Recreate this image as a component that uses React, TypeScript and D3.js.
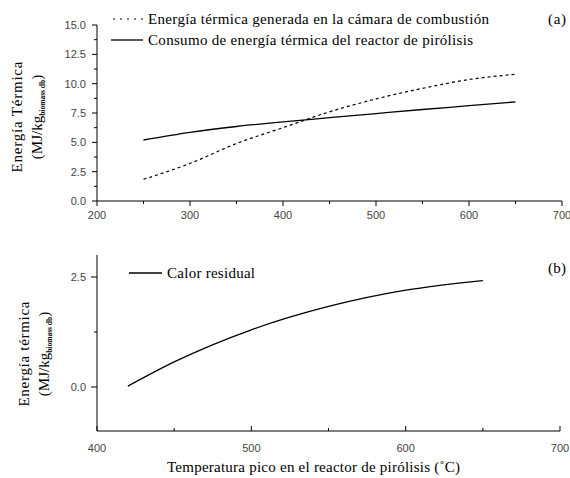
import React, { useEffect, useRef } from 'react';
import * as d3 from 'd3';

// panel (a)
const tempsA = [250, 300, 350, 400, 450, 500, 550, 600, 650];
const generada = [1.85, 3.2, 4.9, 6.25, 7.6, 8.7, 9.6, 10.35, 10.8];
const consumo = [5.2, 5.85, 6.35, 6.75, 7.1, 7.45, 7.8, 8.12, 8.45];
const xTicksA = [200, 300, 400, 500, 600, 700];
const yTicksA = [0, 2.5, 5, 7.5, 10, 12.5, 15];

// panel (b)
const tempsB = [420, 450, 500, 550, 600, 650];
const residual = [0.02, 0.57, 1.3, 1.83, 2.2, 2.42];
const xTicksB = [400, 500, 600, 700];
const yTicksB = [0, 2.5];

const serif = '"Liberation Serif", "Times New Roman", serif';
const sans = '"Liberation Sans", Arial, sans-serif';

const App = () => {
  const ref = useRef<SVGSVGElement>(null);

  useEffect(() => {
    const svg = d3.select(ref.current);
    svg.selectAll('*').remove();

    const label = (g: any, x: number, y: number, s: string, len: number) =>
      g.append('text').attr('x', x).attr('y', y).attr('font-family', serif).attr('font-size', 15)
        .attr('textLength', len).attr('lengthAdjust', 'spacing').text(s);

    // ---------- panel (a)
    const xA = d3.scaleLinear().domain([200, 700]).range([97, 562]);
    const yA = d3.scaleLinear().domain([0, 15]).range([201, 25]);
    const gA = svg.append('g');

    gA.append('line').attr('x1', 97).attr('x2', 97).attr('y1', yA(15)).attr('y2', yA(0)).attr('stroke', '#000');
    gA.append('line').attr('x1', xA(200)).attr('x2', xA(700)).attr('y1', 201).attr('y2', 201).attr('stroke', '#000');

    d3.range(200, 701, 50).forEach(v => {
      const major = v % 100 === 0;
      gA.append('line').attr('x1', xA(v)).attr('x2', xA(v)).attr('y1', 201).attr('y2', 201 + (major ? 5 : 3)).attr('stroke', '#000');
    });
    d3.range(0, 15.01, 1.25).forEach(v => {
      const major = Math.abs(v / 2.5 - Math.round(v / 2.5)) < 1e-6;
      gA.append('line').attr('x1', 97).attr('x2', 97 - (major ? 5 : 3)).attr('y1', yA(v)).attr('y2', yA(v)).attr('stroke', '#000');
    });
    xTicksA.forEach(v => {
      gA.append('text').attr('x', xA(v)).attr('y', 219).attr('text-anchor', 'middle')
        .attr('font-family', sans).attr('font-size', 11).attr('fill', '#444').text(String(v));
    });
    yTicksA.forEach(v => {
      gA.append('text').attr('x', 86).attr('y', yA(v) + 4).attr('text-anchor', 'end')
        .attr('font-family', sans).attr('font-size', 11).attr('fill', '#444').text(v.toFixed(1));
    });

    const lineA = (vals: number[]) => d3.line<number>().x((_, i) => xA(tempsA[i])).y(d => yA(d)).curve(d3.curveMonotoneX)(vals);
    gA.append('path').attr('d', lineA(generada)).attr('fill', 'none').attr('stroke', '#000').attr('stroke-width', 1.2).attr('stroke-dasharray', '3,3');
    gA.append('path').attr('d', lineA(consumo)).attr('fill', 'none').attr('stroke', '#000').attr('stroke-width', 1.3);

    // legend (a)
    gA.append('line').attr('x1', 113).attr('x2', 143).attr('y1', 19).attr('y2', 19).attr('stroke', '#000').attr('stroke-dasharray', '2,5');
    label(gA, 148, 24, 'Energía térmica generada en la cámara de combustión', 341);
    gA.append('line').attr('x1', 111).attr('x2', 143).attr('y1', 40).attr('y2', 40).attr('stroke', '#000').attr('stroke-width', 1.3);
    label(gA, 148, 45, 'Consumo de energía térmica del reactor de pirólisis', 325);
    label(gA, 548, 24, '(a)', 18);

    const yLabelA = gA.append('g').attr('transform', 'translate(22,117) rotate(-90)');
    yLabelA.append('text').attr('text-anchor', 'middle').attr('font-family', serif).attr('font-size', 15)
      .attr('textLength', 111).attr('lengthAdjust', 'spacing').text('Energía Térmica');
    const sub1 = yLabelA.append('text').attr('y', 20).attr('text-anchor', 'middle').attr('font-family', serif).attr('font-size', 15);
    sub1.append('tspan').text('(MJ/kg');
    sub1.append('tspan').attr('font-size', 7.5).attr('font-weight', 'bold').attr('dy', 3).text('biomass db');
    sub1.append('tspan').attr('dy', -3).text(')');

    // ---------- panel (b)
    const xB = d3.scaleLinear().domain([400, 700]).range([97, 560]);
    const yB = d3.scaleLinear().domain([-1, 3]).range([431, 255]);
    const gB = svg.append('g');

    gB.append('line').attr('x1', 97).attr('x2', 97).attr('y1', yB(3)).attr('y2', yB(-1)).attr('stroke', '#000');
    gB.append('line').attr('x1', xB(400)).attr('x2', xB(700)).attr('y1', 431).attr('y2', 431).attr('stroke', '#000');

    d3.range(400, 701, 50).forEach(v => {
      const major = v % 100 === 0;
      gB.append('line').attr('x1', xB(v)).attr('x2', xB(v)).attr('y1', 431).attr('y2', 431 - (major ? 5 : 3)).attr('stroke', '#000');
    });
    [0, 1.25, 2.5].forEach(v => {
      const major = v !== 1.25;
      gB.append('line').attr('x1', 97).attr('x2', 97 - (major ? 6 : 3)).attr('y1', yB(v)).attr('y2', yB(v)).attr('stroke', '#000');
    });
    xTicksB.forEach(v => {
      gB.append('text').attr('x', xB(v)).attr('y', 452).attr('text-anchor', 'middle')
        .attr('font-family', sans).attr('font-size', 11).attr('fill', '#444').text(String(v));
    });
    yTicksB.forEach(v => {
      gB.append('text').attr('x', 86).attr('y', yB(v) + 4).attr('text-anchor', 'end')
        .attr('font-family', sans).attr('font-size', 11).attr('fill', '#444').text(v.toFixed(1));
    });

    const lineB = d3.line<number>().x((_, i) => xB(tempsB[i])).y(d => yB(d)).curve(d3.curveMonotoneX);
    gB.append('path').attr('d', lineB(residual)).attr('fill', 'none').attr('stroke', '#000').attr('stroke-width', 1.3);

    gB.append('line').attr('x1', 129).attr('x2', 162).attr('y1', 273).attr('y2', 273).attr('stroke', '#000').attr('stroke-width', 1.3);
    label(gB, 167, 278, 'Calor residual', 88);
    label(gB, 548, 273, '(b)', 18);

    const yLabelB = gB.append('g').attr('transform', 'translate(29,354) rotate(-90)');
    yLabelB.append('text').attr('text-anchor', 'middle').attr('font-family', serif).attr('font-size', 15)
      .attr('textLength', 105).attr('lengthAdjust', 'spacing').text('Energía térmica');
    const sub2 = yLabelB.append('text').attr('y', 20).attr('text-anchor', 'middle').attr('font-family', serif).attr('font-size', 15);
    sub2.append('tspan').text('(MJ/kg');
    sub2.append('tspan').attr('font-size', 7.5).attr('font-weight', 'bold').attr('dy', 3).text('biomass db');
    sub2.append('tspan').attr('dy', -3).text(')');

    label(gB, 167, 472, 'Temperatura pico en el reactor de pirólisis (˚C)', 293);
  }, []);

  return (
    <svg ref={ref} width={570} height={478} style={{ position: 'absolute', left: 0, top: 0, background: '#fff' }} />
  );
};

export default App;
